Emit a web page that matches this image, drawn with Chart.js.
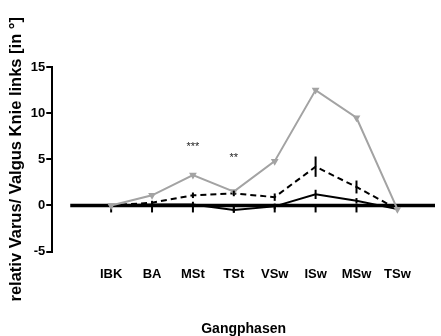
<!DOCTYPE html>
<html>
<head>
<meta charset="utf-8">
<script src="https://cdn.jsdelivr.net/npm/chart.js@4.4.0/dist/chart.umd.min.js"></script>
<style>
  html, body { margin: 0; padding: 0; background: #fff; }
  #wrap { width: 441px; height: 336px; }
</style>
</head>
<body>
<div id="wrap"><canvas id="chart" width="441" height="336"></canvas></div>
<script>
const phases = ["IBK", "BA", "MSt", "TSt", "VSw", "ISw", "MSw", "TSw"];
const grayValues = [0, 1.1, 3.3, 1.5, 4.8, 12.5, 9.5, -0.4];
const dashedValues = [0, 0.3, 1.1, 1.3, 0.9, 4.2, 2.0, -0.4];
const dashedErr = [0, 0.2, 0.3, 0.3, 0.4, 1.1, 0.7, 0];
const solidValues = [0, 0.1, 0.1, -0.5, -0.1, 1.2, 0.5, -0.4];
const solidErr = [0, 0.2, 0.3, 0.3, 0.3, 0.5, 0.3, 0];
const yTicks = [-5, 0, 5, 10, 15];
const stars = [{ at: 2, text: "***", y: 6.3 }, { at: 3, text: "**", y: 5.1 }];

const FONT = "Liberation Sans";
const toPoints = vals => vals.map((v, i) => ({ x: i, y: v }));

// zero line, error bars and significance marks
const extras = {
    id: "extras",
    beforeDatasetsDraw(chart) {
        const ctx = chart.ctx;
        const x = chart.scales.x, y = chart.scales.y;
        const y0 = y.getPixelForValue(0);
        ctx.save();
        ctx.strokeStyle = "#000";
        ctx.lineWidth = 3.5;
        ctx.beginPath();
        ctx.moveTo(x.getPixelForValue(-1), y0);
        ctx.lineTo(chart.chartArea.right, y0);
        ctx.stroke();
        ctx.lineWidth = 2;
        for (let i = 0; i < phases.length - 1; i++) {
            const px = x.getPixelForValue(i);
            ctx.beginPath();
            ctx.moveTo(px, y0);
            ctx.lineTo(px, y0 + 7);
            ctx.stroke();
        }
        ctx.restore();
    },
    afterDatasetsDraw(chart) {
        const ctx = chart.ctx;
        const x = chart.scales.x, y = chart.scales.y;
        ctx.save();
        ctx.strokeStyle = "#000";
        ctx.lineWidth = 2;
        [[dashedValues, dashedErr], [solidValues, solidErr]].forEach(([vals, errs]) => {
            vals.forEach((v, i) => {
                if (!errs[i]) return;
                const px = x.getPixelForValue(i);
                ctx.beginPath();
                ctx.moveTo(px, y.getPixelForValue(v - errs[i]));
                ctx.lineTo(px, y.getPixelForValue(v + errs[i]));
                ctx.stroke();
            });
        });
        ctx.fillStyle = "#222";
        ctx.font = "11px " + FONT;
        ctx.textAlign = "center";
        ctx.textBaseline = "middle";
        stars.forEach(s => {
            ctx.fillText(s.text, x.getPixelForValue(s.at), y.getPixelForValue(s.y));
        });
        ctx.restore();
    }
};

const ctx = document.getElementById("chart").getContext("2d");
new Chart(ctx, {
    type: "line",
    data: {
        datasets: [
            {
                data: toPoints(grayValues),
                borderColor: "#a3a3a3",
                backgroundColor: "#a3a3a3",
                borderWidth: 2,
                pointStyle: "triangle",
                rotation: 180,
                pointRadius: 2.5
            },
            {
                data: toPoints(dashedValues),
                borderColor: "#000",
                borderWidth: 2,
                borderDash: [6, 4],
                pointRadius: 0
            },
            {
                data: toPoints(solidValues),
                borderColor: "#000",
                borderWidth: 2,
                pointRadius: 0
            }
        ]
    },
    options: {
        responsive: false,
        animation: false,
        layout: { padding: { top: 67, right: 0, bottom: 0, left: 0 } },
        plugins: { legend: { display: false }, tooltip: { enabled: false } },
        scales: {
            x: {
                type: "linear",
                min: -1.44,
                max: 7.92,
                grid: { display: false },
                border: { display: false },
                afterBuildTicks: scale => { scale.ticks = phases.map((p, i) => ({ value: i })); },
                ticks: {
                    padding: 7,
                    color: "#000",
                    font: { family: FONT, size: 13, weight: "bold" },
                    callback: v => phases[v]
                },
                title: {
                    display: true,
                    text: "Gangphasen",
                    color: "#000",
                    padding: { top: 32, bottom: -2 },
                    font: { family: FONT, size: 14, weight: "bold" }
                }
            },
            y: {
                min: -5,
                max: 15,
                afterBuildTicks: scale => { scale.ticks = yTicks.map(v => ({ value: v })); },
                grid: { drawOnChartArea: false, drawTicks: true, tickLength: 6, color: "#000", lineWidth: 2 },
                border: { display: true, color: "#000", width: 2 },
                ticks: {
                    padding: 1,
                    color: "#000",
                    font: { family: FONT, size: 13, weight: "bold" }
                },
                title: {
                    display: true,
                    text: "relativ Varus/ Valgus Knie links [in °]",
                    color: "#000",
                    padding: { top: 7, bottom: 3 },
                    font: { family: FONT, size: 16.5, weight: "bold" }
                }
            }
        }
    },
    plugins: [extras]
});
</script>
</body>
</html>
